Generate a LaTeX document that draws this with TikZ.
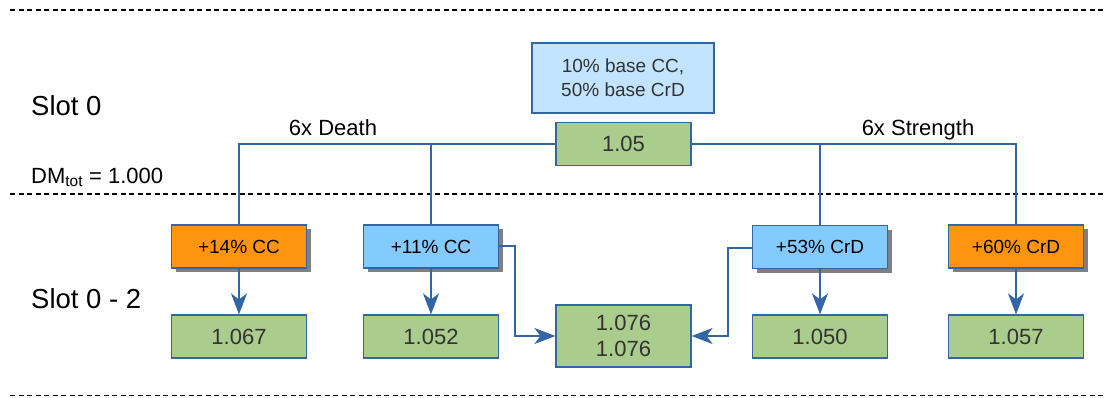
\documentclass[tikz,border=0pt]{standalone}
\usepackage{fontspec}
\setmainfont{Liberation Sans}
\usetikzlibrary{arrows.meta,shadows}
\definecolor{lobLue}{HTML}{3465A4}
\definecolor{boxgreen}{HTML}{AACD8D}
\definecolor{boxorange}{HTML}{FF950E}
\definecolor{boxblue}{HTML}{83CAFF}
\definecolor{boxpale}{HTML}{C3E4FF}
\definecolor{txtgray}{HTML}{333333}
\tikzset{
  bx/.style={draw=lobLue, line width=1.2pt, inner sep=0pt, align=center, text=txtgray},
  valbox/.style={bx, fill=boxgreen, minimum width=135pt, minimum height=43pt, font=\fontsize{22}{26}\selectfont},
  modbox/.style={bx, text=black, minimum width=135pt, minimum height=43pt, font=\fontsize{19}{22}\selectfont,
    drop shadow={shadow xshift=4pt, shadow yshift=-4pt, fill=black!50, opacity=1}},
  ccbox/.style={modbox, fill=boxorange},
  bluebox/.style={modbox, fill=boxblue},
  conn/.style={draw=lobLue, line width=1.6pt},
  arr/.style={conn, -{Stealth[length=21pt, width=16pt, inset=6pt]}},
  sep/.style={line width=1.6pt, dash pattern=on 5pt off 3.5pt},
  lbl/.style={font=\fontsize{22}{26}\selectfont, inner sep=0pt},
  slot/.style={font=\fontsize{27.5}{32}\selectfont, inner sep=0pt, text=black},
}
\begin{document}
\begin{tikzpicture}[x=1pt, y=-1pt]
\useasboundingbox (0,0) rectangle (1113,397);
% separators
\coordinate (s1a) at (10,10);  \coordinate (s1b) at (1105,10);
\coordinate (s2a) at (10,194); \coordinate (s2b) at (1105,194);
\coordinate (s3a) at (10,395.5); \coordinate (s3b) at (1105,395.5);
\draw[sep] (s1a) -- (s1b);
\draw[sep] (s2a) -- (s2b);
\draw[sep] (s3a) -- (s3b);
% left labels
\node[slot, anchor=base west] (slot0) at (31,115) {Slot 0};
\node[slot, anchor=base west] (slot02) at (31,308) {Slot 0 - 2};
\node[lbl, anchor=base west] (dm) at (31,183) {DM\textsubscript{tot} = 1.000};
% top
\node[bx, fill=boxpale, minimum width=182pt, minimum height=70pt, font=\fontsize{19}{24}\selectfont] (base) at (623,78) {10\% base CC,\\50\% base CrD};
\node[valbox] (r0) at (623.5,144) {1.05};
\node[lbl, anchor=base] (death) at (333,135) {6x Death};
\node[lbl, anchor=base] (str) at (918,135) {6x Strength};
% modifiers
\node[ccbox] (cc14) at (239,246.5) {+14\% CC};
\node[bluebox] (cc11) at (431,246.5) {+11\% CC};
\node[bluebox] (crd53) at (820,247) {+53\% CrD};
\node[ccbox] (crd60) at (1016,246.5) {+60\% CrD};
% values
\node[valbox] (v1) at (239,336.5) {1.067};
\node[valbox] (v2) at (431,336.5) {1.052};
\node[valbox, minimum height=62pt, font=\fontsize{22}{26}\selectfont] (mid) at (623.5,336) {1.076\\1.076};
\node[valbox] (v4) at (820,336.5) {1.050};
\node[valbox] (v5) at (1016,336.5) {1.057};
% tree
\draw[conn] (r0.west) -| (cc14.north);
\draw[conn] (r0.west -| cc11.north) -- (cc11.north);
\draw[conn] (r0.east) -| (crd60.north);
\draw[conn] (r0.east -| crd53.north) -- (crd53.north);
% arrows
\draw[arr] (cc14.south) -- (v1.north);
\draw[arr] (cc11.south) -- (v2.north);
\draw[arr] (crd53.south) -- (v4.north);
\draw[arr] (crd60.south) -- (v5.north);
\coordinate (kl) at (515,246);
\coordinate (kr) at (728,248);
\draw[arr] (cc11.east |- kl) -- (kl) |- (mid.west);
\draw[arr] (crd53.west |- kr) -- (kr) |- (mid.east);
\end{tikzpicture}
\end{document}
